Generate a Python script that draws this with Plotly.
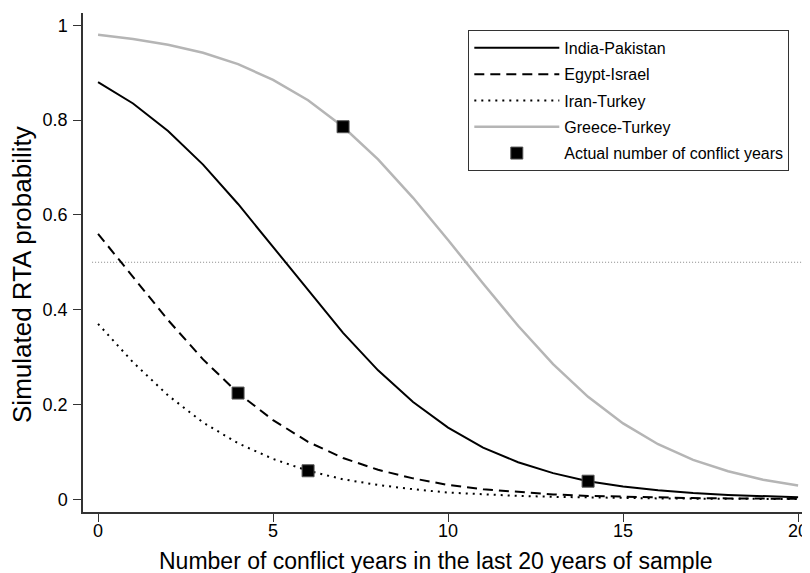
import plotly.graph_objects as go

years = list(range(0, 21))
india_pakistan = [0.880, 0.835, 0.777, 0.706, 0.623, 0.532, 0.440, 0.351, 0.272, 0.205, 0.151,
                  0.109, 0.078, 0.055, 0.038, 0.027, 0.019, 0.013, 0.009, 0.006, 0.004]
egypt_israel = [0.560, 0.468, 0.378, 0.295, 0.224, 0.167, 0.121, 0.087, 0.062, 0.044, 0.030,
                0.021, 0.015, 0.010, 0.007, 0.005, 0.0035, 0.0024, 0.0017, 0.0012, 0.0008]
iran_turkey = [0.370, 0.289, 0.219, 0.162, 0.118, 0.085, 0.060, 0.042, 0.030, 0.021, 0.014,
               0.010, 0.007, 0.005, 0.0035, 0.0024, 0.0017, 0.0012, 0.0008, 0.0006, 0.0004]
greece_turkey = [0.980, 0.971, 0.959, 0.942, 0.918, 0.885, 0.842, 0.786, 0.717, 0.636, 0.547,
                 0.455, 0.366, 0.285, 0.216, 0.160, 0.116, 0.083, 0.059, 0.041, 0.029]
series_names = ["India-Pakistan", "Egypt-Israel", "Iran-Turkey", "Greece-Turkey"]
actual_years = [14, 4, 6, 7]
x_ticks = [0, 5, 10, 15, 20]
y_ticks = [0, 0.2, 0.4, 0.6, 0.8, 1]
y_tick_labels = ["0", "0.2", "0.4", "0.6", "0.8", "1"]
threshold = 0.5
x_title = "Number of conflict years in the last 20 years of sample"
y_title = "Simulated RTA probability"

FONT = "Liberation Sans, Arial, Helvetica, sans-serif"
all_series = [india_pakistan, egypt_israel, iran_turkey, greece_turkey]
styles = [
    dict(color="black", width=2, dash="solid"),
    dict(color="black", width=2, dash="10px,6px"),
    dict(color="black", width=2, dash="2px,5px"),
    dict(color="#b5b5b5", width=2.5, dash="solid"),
]

fig = go.Figure()
for i, (name, vals, st) in enumerate(zip(series_names, all_series, styles)):
    fig.add_trace(go.Scatter(x=years, y=vals, mode="lines", name=name, line=st,
                             legendgroup="g%d" % i))

act_y = [s[years.index(a)] for s, a in zip(all_series, actual_years)]
fig.add_trace(go.Scatter(
    x=actual_years, y=act_y, mode="markers", name="Actual number of conflict years",
    legendgroup="g4",
    marker=dict(symbol="square", size=12, color="black", line=dict(color="#555", width=1)),
))

fig.add_shape(type="line", xref="x", yref="y", x0=-0.17, x1=20.34, y0=threshold, y1=threshold,
              line=dict(color="#888", width=1, dash="1px,2px"), layer="below")

fig.add_annotation(text=x_title, xref="paper", yref="paper", x=0.4856, y=-0.098,
                   xanchor="center", yanchor="middle", showarrow=False,
                   font=dict(family=FONT, size=23, color="black"))
fig.add_annotation(text=y_title, xref="paper", yref="paper", x=-0.0839, y=0.475,
                   xanchor="center", yanchor="middle", showarrow=False, textangle=-90,
                   font=dict(family=FONT, size=26, color="black"))

# page body has an 8px default margin; size the figure so the plot area lands where the reference has it
fig.update_layout(
    width=802, height=565,
    margin=dict(l=75, r=0, t=5, b=61),
    paper_bgcolor="white", plot_bgcolor="white",
    font=dict(family=FONT, size=18, color="black"),
    showlegend=True,
    legend=dict(
        x=0.530, y=0.966, xanchor="left", yanchor="top",
        bordercolor="#333", borderwidth=1, bgcolor="white",
        font=dict(family=FONT, size=16, color="black"),
        itemwidth=85, tracegroupgap=2.5,
    ),
    xaxis=dict(
        range=[-0.43, 20.34], tickvals=x_ticks, ticks="outside", ticklen=8, tickwidth=1,
        tickcolor="#333", showline=True, linecolor="#333", linewidth=1.5,
        showgrid=False, zeroline=False, automargin=False,
        tickfont=dict(size=18), ticklabelstandoff=-6,
    ),
    yaxis=dict(
        range=[-0.027, 1.026], tickvals=y_ticks, ticktext=y_tick_labels, ticks="outside",
        ticklen=8, tickwidth=1, tickcolor="#333", showline=True, linecolor="#333", linewidth=1.5,
        showgrid=False, zeroline=False, automargin=False,
        tickfont=dict(size=18), ticklabelstandoff=2,
    ),
)

fig.write_html("out.html")
